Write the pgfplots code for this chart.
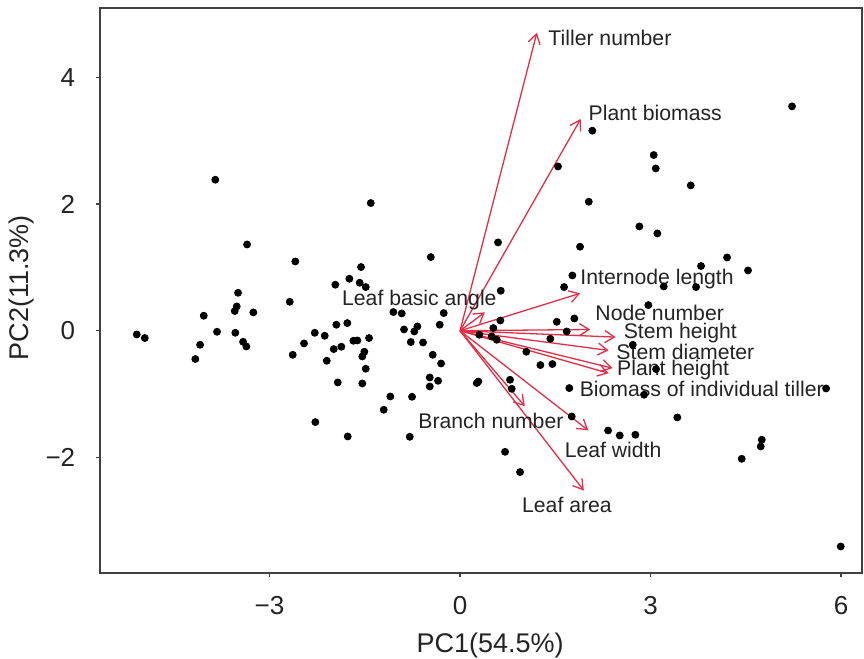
\documentclass[border=0pt]{standalone}
\usepackage{fontspec}
\setmainfont{Liberation Sans}
\usepackage{pgfplots}
\usepackage{pgfplotstable}
\pgfplotsset{compat=1.18}
\usetikzlibrary{arrows.meta}
\definecolor{arrred}{RGB}{228,45,70}
\definecolor{txt}{RGB}{35,35,35}
\pgfplotstableread{
x y
-3.854 2.382
-1.406 2.014
-3.354 1.361
-2.594 1.093
-0.461 1.162
-1.559 1.005
-1.743 0.820
-1.964 0.726
-1.580 0.757
-1.485 0.689
-3.496 0.599
-2.682 0.457
-3.517 0.383
-3.548 0.311
-4.036 0.237
-3.255 0.289
-1.050 0.295
-0.918 0.273
-0.257 0.279
-0.320 0.095
-1.948 0.095
-1.775 0.121
-0.882 0.021
-0.672 0.068
-0.720 -0.011
-5.091 -0.058
-4.965 -0.115
-3.827 -0.016
-3.539 -0.032
-2.288 -0.032
-2.131 -0.079
-4.094 -0.221
-3.417 -0.174
-3.365 -0.248
-2.457 -0.200
-1.680 -0.158
-1.617 -0.153
-1.433 -0.115
-0.776 -0.178
-0.583 -0.185
-4.169 -0.446
-2.635 -0.379
-1.989 -0.289
-1.869 -0.252
-1.507 -0.331
-1.539 -0.405
-2.099 -0.473
-0.430 -0.379
-0.299 -0.516
-1.485 -0.599
-1.926 -0.815
-1.539 -0.831
-0.477 -0.737
-0.346 -0.789
-0.477 -0.879
-1.098 -1.036
-0.756 -1.041
-1.202 -1.246
-2.279 -1.440
-1.769 -1.667
-0.792 -1.672
5.228 3.538
2.083 3.155
3.050 2.771
3.082 2.560
1.543 2.591
3.633 2.292
2.027 2.035
2.824 1.645
3.107 1.535
0.598 1.393
1.890 1.325
3.795 1.021
4.205 1.156
4.535 0.951
1.769 0.872
1.638 0.689
3.208 0.699
3.717 0.689
0.641 0.631
2.965 0.405
1.523 0.142
1.800 0.194
0.635 0.162
0.524 0.043
1.680 -0.011
0.304 -0.063
0.499 -0.090
0.578 -0.142
1.422 -0.126
2.720 -0.221
1.044 -0.331
1.265 -0.541
1.454 -0.525
3.087 -0.604
0.263 -0.825
0.288 -0.800
0.787 -0.773
0.814 -0.915
1.721 -0.904
2.898 -1.009
5.764 -0.910
1.759 -1.352
3.422 -1.367
2.331 -1.573
2.515 -1.651
2.761 -1.640
4.751 -1.719
4.735 -1.825
4.436 -2.019
0.709 -1.909
0.945 -2.229
5.995 -3.402
}\scores
\begin{document}
\begin{tikzpicture}
\begin{axis}[
  at={(50pt,43pt)}, anchor=south west,
  scale only axis, width=381pt, height=282.5pt,
  xmin=-5.67, xmax=6.33, ymin=-3.82, ymax=5.09,
  axis line style={black!75, line width=0.75pt},
  xtick={-3,0,3,6}, ytick={-2,0,2,4},
  xticklabels={−3,0,3,6}, yticklabels={−2,0,2,4},
  tick align=outside, tick pos=left,
  major tick length=2.2pt,
  tick style={black!75, line width=0.6pt},
  /pgf/number format/assume math mode=true,
  ticklabel style={font=\fontsize{13}{15}\selectfont, text=txt, inner sep=0pt},
  xticklabel style={anchor=center, yshift=-14pt},
  yticklabel style={anchor=east, xshift=-10pt},
  xlabel={PC1(54.5\%)}, ylabel={PC2(11.3\%)},
  every axis x label/.style={at={(rel axis cs:0.512,-0.129)}, anchor=center, font=\fontsize{13.5}{16}\selectfont, text=txt},
  every axis y label/.style={at={(rel axis cs:-0.103,0.505)}, anchor=center, rotate=90, font=\fontsize{13.5}{16}\selectfont, text=txt},
  clip=false,
]
\addplot[only marks, mark=*, mark size=1.75pt, black] table {\scores};
\pgfplotsset{arr/.style={arrred, line width=0.65pt, -{Straight Barb[length=4.8pt,width=6pt]}}}
\addplot[arr] coordinates {(0,0) (1.21,4.70)};
\addplot[arr] coordinates {(0,0) (1.90,3.34)};
\addplot[arr] coordinates {(0,0) (1.89,0.59)};
\addplot[arr] coordinates {(0,0) (0.39,0.29)};
\addplot[arr] coordinates {(0,0) (2.05,0.02)};
\addplot[arr] coordinates {(0,0) (2.45,-0.10)};
\addplot[arr] coordinates {(0,0) (2.34,-0.31)};
\addplot[arr] coordinates {(0,0) (2.40,-0.59)};
\addplot[arr] coordinates {(0,0) (2.34,-0.67)};
\addplot[arr] coordinates {(0,0) (1.02,-1.19)};
\addplot[arr] coordinates {(0,0) (2.02,-1.57)};
\addplot[arr] coordinates {(0,0) (1.95,-2.52)};
\begin{scope}[every node/.style={anchor=west, inner sep=0pt, text=txt, font=\fontsize{10.6}{12}\selectfont}]
\node at (axis cs:1.386,4.621) {Tiller number};
\node at (axis cs:2.020,3.443) {Plant biomass};
\node at (axis cs:1.890,0.815) {Internode length};
\node at (axis cs:-1.863,0.489) {Leaf basic angle};
\node at (axis cs:2.126,0.279) {Node number};
\node at (axis cs:2.572,-0.036) {Stem height};
\node at (axis cs:2.457,-0.326) {Stem diameter};
\node at (axis cs:2.468,-0.626) {Plant height};
\node at (axis cs:1.879,-0.920) {Biomass of individual tiller};
\node at (axis cs:-0.661,-1.415) {Branch number};
\node at (axis cs:1.643,-1.877) {Leaf width};
\node at (axis cs:0.972,-2.744) {Leaf area};
\end{scope}
\end{axis}
\pgfresetboundingbox
\useasboundingbox (0,0) rectangle (432pt,329.5pt);
\end{tikzpicture}
\end{document}
